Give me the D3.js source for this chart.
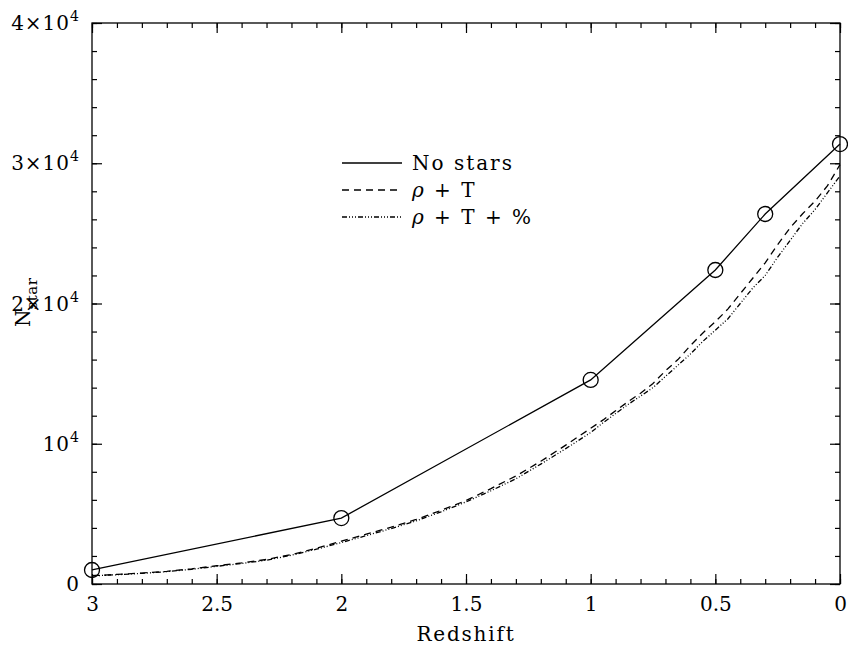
<!DOCTYPE html>
<html>
<head>
<meta charset="utf-8">
<script src="https://cdn.jsdelivr.net/npm/d3@7"></script>
<style>
  body { margin: 0; background: #fff; }
  text { font-family: "DejaVu Serif", serif; fill: #000; }
</style>
</head>
<body>
<svg id="chart" width="848" height="650"></svg>
<script>
// No stars run (points marked with circles)
const zNoStars = [3, 2, 1, 0.5, 0.3, 0];
const nNoStars = [1000, 4700, 14550, 22390, 26380, 31370];

// rho + T and rho + T + % runs, sampled along redshift
const zRuns = [3.0, 2.9, 2.8, 2.7, 2.6, 2.5, 2.4, 2.3, 2.2, 2.1, 2.0, 1.9, 1.8, 1.7, 1.6, 1.5, 1.4, 1.3, 1.2, 1.1, 1.0,
               0.95, 0.9, 0.85, 0.8, 0.75, 0.7, 0.65, 0.6, 0.55, 0.5, 0.45, 0.4, 0.35, 0.3, 0.25, 0.2, 0.15, 0.1, 0.05, 0.0];
const nRhoT = [600, 680, 780, 900, 1080, 1300, 1500, 1750, 2100, 2550, 3050, 3550, 4050, 4600, 5250, 5950, 6800, 7700, 8750, 9900, 11100,
               11700, 12350, 13000, 13600, 14300, 15200, 16000, 17000, 17900, 18700, 19600, 20700, 21800, 22900, 24200, 25400, 26400, 27300, 28400, 29900];
const nRhoTPc = [580, 660, 760, 880, 1050, 1260, 1460, 1700, 2050, 2480, 2950, 3450, 3950, 4500, 5150, 5850, 6650, 7500, 8550, 9650, 10800,
                 11500, 12150, 12800, 13400, 14000, 14800, 15600, 16400, 17300, 18100, 18900, 20000, 21100, 22000, 23300, 24500, 25700, 26700, 27900, 29100];

// axis ticks
const xMajor = [3, 2.5, 2, 1.5, 1, 0.5, 0];
const xMajorLabels = ["3", "2.5", "2", "1.5", "1", "0.5", "0"];
const xMinor = d3.range(0, 31).map(i => i / 10);
const yMajor = [0, 10000, 20000, 30000, 40000];
const yMajorLabels = ["0", "10^4", "2×10^4", "3×10^4", "4×10^4"];
const yMinor = d3.range(0, 21).map(i => i * 2000);

const legendLabels = ["No stars", "ρ + T", "ρ + T + %"];

const svg = d3.select("#chart");
const mLeft = 92, mRight = 840, mTop = 23, mBottom = 584;

const x = d3.scaleLinear().domain([3, 0]).range([mLeft, mRight]);
const y = d3.scaleLinear().domain([0, 40000]).range([mBottom, mTop]);

const axisStyle = g => {
  g.select(".domain").remove();
  g.selectAll(".tick line").attr("stroke", "#000").attr("stroke-width", 1.2);
};

// minor ticks on all four sides
svg.append("g").attr("transform", "translate(0," + mBottom + ")")
  .call(d3.axisBottom(x).tickValues(xMinor).tickSize(-5).tickFormat(""))
  .call(axisStyle);
svg.append("g").attr("transform", "translate(0," + mTop + ")")
  .call(d3.axisTop(x).tickValues(xMinor).tickSize(-5).tickFormat(""))
  .call(axisStyle);
svg.append("g").attr("transform", "translate(" + mLeft + ",0)")
  .call(d3.axisLeft(y).tickValues(yMinor).tickSize(-5).tickFormat(""))
  .call(axisStyle);
svg.append("g").attr("transform", "translate(" + mRight + ",0)")
  .call(d3.axisRight(y).tickValues(yMinor).tickSize(-5).tickFormat(""))
  .call(axisStyle);

// major ticks
const xb = svg.append("g").attr("transform", "translate(0," + mBottom + ")")
  .call(d3.axisBottom(x).tickValues(xMajor).tickSize(-10).tickPadding(13)
    .tickFormat((d, i) => xMajorLabels[i]))
  .call(axisStyle);
xb.selectAll("text").attr("font-size", 20).attr("font-family", "DejaVu Serif").attr("fill", "#000");

svg.append("g").attr("transform", "translate(0," + mTop + ")")
  .call(d3.axisTop(x).tickValues(xMajor).tickSize(-10).tickFormat(""))
  .call(axisStyle);
svg.append("g").attr("transform", "translate(" + mLeft + ",0)")
  .call(d3.axisLeft(y).tickValues(yMajor).tickSize(-10).tickFormat(""))
  .call(axisStyle);
svg.append("g").attr("transform", "translate(" + mRight + ",0)")
  .call(d3.axisRight(y).tickValues(yMajor).tickSize(-10).tickFormat(""))
  .call(axisStyle);

// y tick labels with superscripts
const yl = svg.append("g").selectAll("text")
  .data(yMajor)
  .join("text")
  .attr("x", mLeft - 12)
  .attr("y", d => y(d) + 7)
  .attr("text-anchor", "end")
  .attr("font-size", 20)
  .attr("letter-spacing", 1);
yl.each(function(d, i) {
  const parts = yMajorLabels[i].split("^");
  const t = d3.select(this);
  t.append("tspan").text(parts[0]);
  if (parts[1]) {
    t.append("tspan").attr("dy", -9).attr("font-size", 14).text(parts[1]);
  }
});

// frame
svg.append("rect")
  .attr("x", mLeft).attr("y", mTop)
  .attr("width", mRight - mLeft).attr("height", mBottom - mTop)
  .attr("fill", "none").attr("stroke", "#000").attr("stroke-width", 1.3);

// axis titles
svg.append("text")
  .attr("x", (mLeft + mRight) / 2)
  .attr("y", 641)
  .attr("text-anchor", "middle")
  .attr("font-size", 20)
  .attr("letter-spacing", 1.8)
  .text("Redshift");

const yt = svg.append("text")
  .attr("transform", "translate(30,327) rotate(-90)")
  .attr("font-size", 20);
yt.append("tspan").text("N");
yt.append("tspan").attr("dy", 7).attr("font-size", 15).attr("letter-spacing", 0.5).text("star");

// lines
const line = d3.line().x(d => x(d[0])).y(d => y(d[1]));

svg.append("path")
  .datum(d3.zip(zRuns, nRhoTPc))
  .attr("fill", "none").attr("stroke", "#000").attr("stroke-width", 1.3)
  .attr("stroke-dasharray", "5,2,1,2,1,2,1,2")
  .attr("d", line);

svg.append("path")
  .datum(d3.zip(zRuns, nRhoT))
  .attr("fill", "none").attr("stroke", "#000").attr("stroke-width", 1.3)
  .attr("stroke-dasharray", "7,5")
  .attr("d", line);

svg.append("path")
  .datum(d3.zip(zNoStars, nNoStars))
  .attr("fill", "none").attr("stroke", "#000").attr("stroke-width", 1.3)
  .attr("d", line);

svg.append("g").selectAll("circle")
  .data(d3.zip(zNoStars, nNoStars))
  .join("circle")
  .attr("cx", d => x(d[0]))
  .attr("cy", d => y(d[1]))
  .attr("r", 7.5)
  .attr("fill", "none").attr("stroke", "#000").attr("stroke-width", 1.3);

// legend
const dashes = [null, "7,5", "5,2,1,2,1,2,1,2"];
const leg = svg.append("g").selectAll("g")
  .data(legendLabels)
  .join("g")
  .attr("transform", (d, i) => "translate(342," + (163 + i * 27) + ")");
leg.append("line")
  .attr("x1", 0).attr("x2", 60)
  .attr("stroke", "#000").attr("stroke-width", 1.3)
  .attr("stroke-dasharray", (d, i) => dashes[i]);
leg.append("text")
  .attr("x", 70).attr("y", 7)
  .attr("font-size", 20)
  .attr("letter-spacing", 2)
  .each(function(d) {
    const t = d3.select(this);
    if (d.startsWith("ρ")) {
      t.append("tspan").attr("font-style", "italic").text("ρ");
      t.append("tspan").text(d.slice(1));
    } else {
      t.text(d);
    }
  });
</script>
</body>
</html>
